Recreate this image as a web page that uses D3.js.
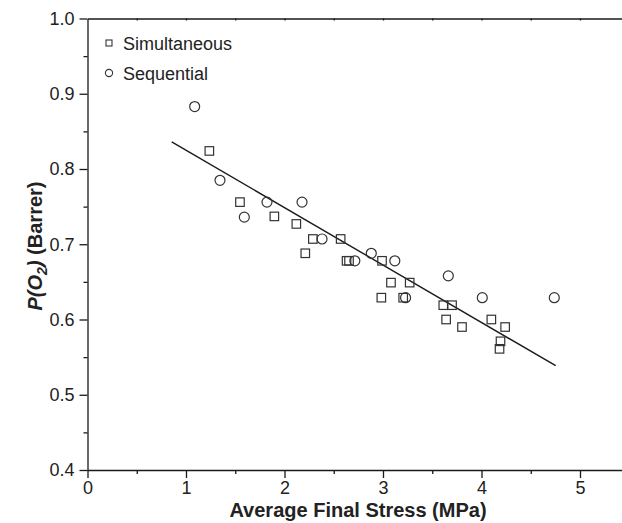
<!DOCTYPE html>
<html>
<head>
<meta charset="utf-8">
<script src="https://cdnjs.cloudflare.com/ajax/libs/d3/7.8.5/d3.min.js"></script>
<style>
  body { margin: 0; background: #fff; }
  svg { display: block; font-family: "Liberation Sans", Arial, sans-serif; }
</style>
</head>
<body>
<svg id="chart"></svg>
<script>
// simultaneous runs (squares)
var simX = [1.237, 1.548, 1.897, 2.12, 2.211, 2.288, 2.57, 2.63, 2.655, 2.99, 2.983,
            3.081, 3.271, 3.205, 3.612, 3.701, 3.641, 3.802, 4.1, 4.24, 4.193, 4.183];
var simY = [0.824, 0.756, 0.737, 0.727, 0.688, 0.707, 0.707, 0.678, 0.678, 0.678, 0.629,
            0.649, 0.649, 0.629, 0.619, 0.619, 0.6, 0.59, 0.6, 0.59, 0.571, 0.561];
// sequential runs (circles)
var seqX = [1.088, 1.345, 1.592, 1.822, 2.178, 2.381, 2.881, 2.714, 3.12, 3.663, 3.229, 4.008, 4.739];
var seqY = [0.883, 0.785, 0.736, 0.756, 0.756, 0.707, 0.688, 0.678, 0.678, 0.658, 0.629, 0.629, 0.629];
// linear fit end points
var fitX = [0.855, 4.753];
var fitY = [0.836, 0.5386];

var xTicks = [0, 1, 2, 3, 4, 5];
var yTicks = [0.4, 0.5, 0.6, 0.7, 0.8, 0.9, 1.0];
var legendNames = ["Simultaneous", "Sequential"];

var W = 622, H = 523;
var margin = { top: 18.5, left: 87.5, bottom: 53 };

var svg = d3.select("#chart").attr("width", W).attr("height", H);

var x = d3.scaleLinear().domain([0, 5.5]).range([margin.left, margin.left + 5.5 * 98.5]);
var y = d3.scaleLinear().domain([0.4, 1.0]).range([H - margin.bottom, margin.top]);

var g = svg.append("g");

// minor ticks first
g.append("g")
  .attr("transform", "translate(0," + y(0.4) + ")")
  .call(d3.axisBottom(x).tickValues(d3.range(0.5, 5.5, 1)).tickSize(4).tickFormat(""))
  .call((a) => a.select(".domain").remove());
g.append("g")
  .attr("transform", "translate(" + x(0) + ",0)")
  .call(d3.axisLeft(y).tickValues(d3.range(0.45, 1.0, 0.1)).tickSize(4).tickFormat(""))
  .call((a) => a.select(".domain").remove());

var xAxis = g.append("g")
  .attr("transform", "translate(0," + y(0.4) + ")")
  .call(d3.axisBottom(x).tickValues(xTicks).tickSize(8).tickSizeOuter(0).tickPadding(3).tickFormat(d3.format("d")));

var yAxis = g.append("g")
  .attr("transform", "translate(" + x(0) + ",0)")
  .call(d3.axisLeft(y).tickValues(yTicks).tickSize(8).tickSizeOuter(0).tickPadding(5).tickFormat(d3.format(".1f")));

// top frame
g.append("g")
  .attr("transform", "translate(0," + y(1.0) + ")")
  .call(d3.axisBottom(x).tickValues(d3.range(0.5, 5.6, 0.5)).tickSize(2).tickSizeOuter(0).tickFormat(""));

g.selectAll(".domain, .tick line").attr("stroke", "#1a1a1a").attr("stroke-width", 1.3);
g.selectAll(".tick text").attr("font-size", 18).attr("fill", "#222")
  .attr("font-family", "'Liberation Sans', Arial, sans-serif");

// axis titles
svg.append("text")
  .attr("x", 358)
  .attr("y", 517)
  .attr("text-anchor", "middle")
  .attr("font-weight", "bold")
  .attr("font-size", 20)
  .attr("fill", "#222")
  .text("Average Final Stress (MPa)");

var yt = svg.append("text")
  .attr("transform", "translate(42," + 246 + ") rotate(-90)")
  .attr("text-anchor", "middle")
  .attr("font-weight", "bold")
  .attr("font-size", 20)
  .attr("fill", "#222");
yt.append("tspan").attr("font-style", "italic").text("P(O");
yt.append("tspan").attr("font-style", "italic").attr("font-size", 14).attr("dy", 5).text("2");
yt.append("tspan").attr("font-style", "italic").attr("dy", -5).text(")");
yt.append("tspan").text(" (Barrer)");

// fit line
svg.append("line")
  .attr("x1", x(fitX[0]))
  .attr("y1", y(fitY[0]))
  .attr("x2", x(fitX[1]))
  .attr("y2", y(fitY[1]))
  .attr("stroke", "#1a1a1a")
  .attr("stroke-width", 1.4);

var sim = simX.map((d, i) => ({ x: d, y: simY[i] }));
var seq = seqX.map((d, i) => ({ x: d, y: seqY[i] }));

var sq = 8.5;
svg.append("g").selectAll("rect")
  .data(sim)
  .enter()
  .append("rect")
  .attr("x", (d) => x(d.x) - sq / 2)
  .attr("y", (d) => y(d.y) - sq / 2)
  .attr("width", sq)
  .attr("height", sq)
  .attr("fill", "none")
  .attr("stroke", "#333")
  .attr("stroke-width", 1.2);

svg.append("g").selectAll("circle")
  .data(seq)
  .enter()
  .append("circle")
  .attr("cx", (d) => x(d.x))
  .attr("cy", (d) => y(d.y))
  .attr("r", 5)
  .attr("fill", "none")
  .attr("stroke", "#333")
  .attr("stroke-width", 1.2);

// legend
var lg = svg.append("g").attr("transform", "translate(109,43)");
lg.append("rect")
  .attr("x", -3).attr("y", -3).attr("width", 6).attr("height", 6)
  .attr("fill", "none").attr("stroke", "#333").attr("stroke-width", 1.1);
lg.append("circle")
  .attr("cx", 0).attr("cy", 30).attr("r", 3.6)
  .attr("fill", "none").attr("stroke", "#333").attr("stroke-width", 1.1);
lg.selectAll("text.lab")
  .data(legendNames)
  .enter()
  .append("text")
  .attr("class", "lab")
  .attr("x", 14)
  .attr("y", (d, i) => i * 30 + 6.5)
  .attr("font-size", 18)
  .attr("fill", "#222")
  .text((d) => d);
</script>
</body>
</html>
